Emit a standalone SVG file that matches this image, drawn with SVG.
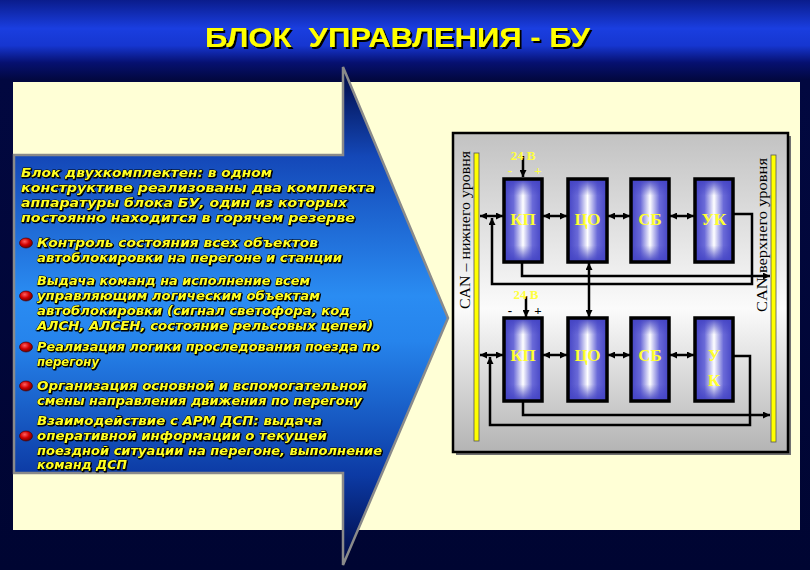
<svg xmlns="http://www.w3.org/2000/svg" width="810" height="570" viewBox="0 0 810 570">
<defs>
<linearGradient id="bg" x1="0" y1="0" x2="0" y2="570" gradientUnits="userSpaceOnUse">
<stop offset="0" stop-color="#0a1c8c"/>
<stop offset="0.05" stop-color="#1a3ee0"/>
<stop offset="0.08" stop-color="#1636d0"/>
<stop offset="0.11" stop-color="#061070"/>
<stop offset="0.14" stop-color="#020840"/>
<stop offset="1" stop-color="#000532"/>
</linearGradient>
<linearGradient id="arrowG" x1="0" y1="67" x2="0" y2="565" gradientUnits="userSpaceOnUse">
<stop offset="0" stop-color="#000842"/>
<stop offset="0.18" stop-color="#1448b8"/>
<stop offset="0.46" stop-color="#2a8cf2"/>
<stop offset="0.55" stop-color="#2684ec"/>
<stop offset="0.82" stop-color="#0c3aa4"/>
<stop offset="1" stop-color="#000842"/>
</linearGradient>
<linearGradient id="panelG" x1="0" y1="0" x2="0" y2="1">
<stop offset="0" stop-color="#c2c2c2"/>
<stop offset="0.55" stop-color="#fbfbfb"/>
<stop offset="1" stop-color="#b4b4b4"/>
</linearGradient>
<linearGradient id="blkH" x1="0" y1="0" x2="1" y2="0">
<stop offset="0" stop-color="#4444c4"/>
<stop offset="0.25" stop-color="#6a6ad8"/>
<stop offset="0.5" stop-color="#ffffff"/>
<stop offset="0.75" stop-color="#6a6ad8"/>
<stop offset="1" stop-color="#4444c4"/>
</linearGradient>
<linearGradient id="blkV" x1="0" y1="0" x2="0" y2="1">
<stop offset="0" stop-color="#4444c4" stop-opacity="1"/>
<stop offset="0.2" stop-color="#4444c4" stop-opacity="0"/>
<stop offset="0.8" stop-color="#4444c4" stop-opacity="0"/>
<stop offset="1" stop-color="#4444c4" stop-opacity="1"/>
</linearGradient>
<radialGradient id="bul" cx="0.4" cy="0.35" r="0.7">
<stop offset="0" stop-color="#ff6060"/>
<stop offset="0.5" stop-color="#d00000"/>
<stop offset="1" stop-color="#600000"/>
</radialGradient>
<filter id="sh" x="-5%" y="-20%" width="110%" height="140%">
<feDropShadow dx="1" dy="1" stdDeviation="0" flood-color="#000"/>
</filter>
<filter id="tsh" x="-5%" y="-20%" width="110%" height="150%">
<feDropShadow dx="2" dy="2" stdDeviation="0" flood-color="#000"/>
</filter>
<marker id="ah" viewBox="0 0 8 8" refX="8" refY="4" markerWidth="7" markerHeight="7" orient="auto-start-reverse" markerUnits="userSpaceOnUse">
<path d="M0,0 L8,4 L0,8 z" fill="#000"/>
</marker>
<style>
.lt{font-family:"DejaVu Sans","Liberation Sans",sans-serif;font-style:italic;font-weight:bold;font-size:13px;fill:#ffff20;stroke:#000;stroke-width:0.9px;paint-order:stroke}
.blk{fill:url(#blkH);stroke:none}
.blkv{fill:url(#blkV);stroke:#000;stroke-width:3.5px}
.bl{font-family:"Liberation Serif",serif;font-weight:bold;font-size:17px;fill:#ffff30;text-anchor:middle}
.ln{fill:none;stroke:#000;stroke-width:2.5px}
.can{font-family:"Liberation Serif",serif;font-size:14px;fill:#000;text-anchor:middle}
.v{font-family:"Liberation Serif",serif;font-weight:bold;font-size:13px;text-anchor:middle}
.bar{fill:#ffff00;stroke:#555;stroke-width:0.8px}
</style>
</defs>

<rect x="0" y="0" width="810" height="570" fill="url(#bg)"/>

<g id="title" filter="url(#tsh)">
<text x="205" y="47" xml:space="preserve" font-family="Liberation Sans, sans-serif" font-weight="bold" font-size="28" fill="#ffff00" textLength="385" lengthAdjust="spacingAndGlyphs">БЛОК  УПРАВЛЕНИЯ - БУ</text>
</g>

<rect id="cream" x="13" y="82" width="787" height="448" fill="#ffffd6"/>

<g id="arrow">
<path d="M343,67 L448,318 L343,565 L343,473 L14,473 L14,155 L343,155 Z" fill="url(#arrowG)" stroke="#8a8a8a" stroke-width="2.5" stroke-linejoin="miter"/>
</g>

<g id="text" filter="url(#sh)">
<text class="lt" x="21" y="177" textLength="251" lengthAdjust="spacingAndGlyphs">Блок двухкомплектен: в одном</text>
<text class="lt" x="21" y="192" textLength="354" lengthAdjust="spacingAndGlyphs">конструктиве реализованы два комплекта</text>
<text class="lt" x="21" y="207" textLength="326" lengthAdjust="spacingAndGlyphs">аппаратуры блока БУ, один из которых</text>
<text class="lt" x="21" y="222" textLength="334" lengthAdjust="spacingAndGlyphs">постоянно находится в горячем резерве</text>

<text class="lt" x="37" y="247" textLength="281" lengthAdjust="spacingAndGlyphs">Контроль состояния всех объектов</text>
<text class="lt" x="37" y="262" textLength="305" lengthAdjust="spacingAndGlyphs">автоблокировки на перегоне и станции</text>

<text class="lt" x="37" y="285" textLength="273" lengthAdjust="spacingAndGlyphs">Выдача команд на исполнение всем</text>
<text class="lt" x="37" y="300" textLength="283" lengthAdjust="spacingAndGlyphs">управляющим логическим объектам</text>
<text class="lt" x="37" y="315" textLength="313" lengthAdjust="spacingAndGlyphs">автоблокировки (сигнал светофора, код</text>
<text class="lt" x="37" y="330" textLength="336" lengthAdjust="spacingAndGlyphs">АЛСН, АЛСЕН, состояние рельсовых цепей)</text>

<text class="lt" x="37" y="351" textLength="343" lengthAdjust="spacingAndGlyphs">Реализация логики проследования поезда по</text>
<text class="lt" x="37" y="366" textLength="62" lengthAdjust="spacingAndGlyphs">перегону</text>

<text class="lt" x="37" y="390" textLength="330" lengthAdjust="spacingAndGlyphs">Организация основной и вспомогательной</text>
<text class="lt" x="37" y="405" textLength="325" lengthAdjust="spacingAndGlyphs">смены направления движения по перегону</text>

<text class="lt" x="37" y="425" textLength="285" lengthAdjust="spacingAndGlyphs">Взаимодействие с АРМ ДСП: выдача</text>
<text class="lt" x="37" y="440" textLength="290" lengthAdjust="spacingAndGlyphs">оперативной информации о текущей</text>
<text class="lt" x="37" y="455" textLength="345" lengthAdjust="spacingAndGlyphs">поездной ситуации на перегоне, выполнение</text>
<text class="lt" x="37" y="469" textLength="90" lengthAdjust="spacingAndGlyphs">команд ДСП</text>
</g>

<g id="bullets" stroke="#400000" stroke-width="0.6">
<ellipse cx="26" cy="243" rx="6.5" ry="5" fill="url(#bul)"/>
<ellipse cx="26" cy="296" rx="6.5" ry="5" fill="url(#bul)"/>
<ellipse cx="26" cy="347" rx="6.5" ry="5" fill="url(#bul)"/>
<ellipse cx="26" cy="386" rx="6.5" ry="5" fill="url(#bul)"/>
<ellipse cx="26" cy="436" rx="6.5" ry="5" fill="url(#bul)"/>
</g>

<g id="panel">
<rect x="456" y="136" width="335" height="319" fill="#707070"/>
<rect x="453" y="133" width="335" height="319" fill="url(#panelG)" stroke="#000" stroke-width="2.5"/>
</g>

<g id="can-low">
<rect class="bar" x="474" y="153" width="5" height="288"/>
<text class="can" transform="translate(470,230) rotate(-90)" textLength="158" lengthAdjust="spacingAndGlyphs">CAN – нижнего уровня</text>
</g>
<g id="can-high">
<rect class="bar" x="771" y="155" width="5" height="287"/>
<text class="can" transform="translate(767,235) rotate(-90)" textLength="154" lengthAdjust="spacingAndGlyphs">CAN верхнего уровня</text>
</g>

<g id="connectors">
<line class="ln" x1="480" y1="216" x2="503" y2="216" marker-start="url(#ah)" marker-end="url(#ah)"/>
<line class="ln" x1="543" y1="216" x2="567" y2="216" marker-start="url(#ah)" marker-end="url(#ah)"/>
<line class="ln" x1="608" y1="216" x2="630" y2="216" marker-start="url(#ah)" marker-end="url(#ah)"/>
<line class="ln" x1="670" y1="216" x2="694" y2="216" marker-start="url(#ah)" marker-end="url(#ah)"/>
<polyline class="ln" points="734,214 752,214 752,284 492,284 492,218" marker-end="url(#ah)"/>
<polyline class="ln" points="522,262 522,276 770,276" marker-end="url(#ah)"/>
<line class="ln" x1="589" y1="263" x2="589" y2="317" marker-start="url(#ah)" marker-end="url(#ah)"/>
<line class="ln" x1="523" y1="156" x2="523" y2="177" marker-end="url(#ah)"/>

<line class="ln" x1="480" y1="355" x2="503" y2="355" marker-start="url(#ah)" marker-end="url(#ah)"/>
<line class="ln" x1="543" y1="355" x2="567" y2="355" marker-start="url(#ah)" marker-end="url(#ah)"/>
<line class="ln" x1="608" y1="355" x2="630" y2="355" marker-start="url(#ah)" marker-end="url(#ah)"/>
<line class="ln" x1="670" y1="355" x2="694" y2="355" marker-start="url(#ah)" marker-end="url(#ah)"/>
<polyline class="ln" points="734,356 750,356 750,425 490,425 490,357" marker-end="url(#ah)"/>
<polyline class="ln" points="523,401 523,415 770,415" marker-end="url(#ah)"/>
<line class="ln" x1="526" y1="296" x2="526" y2="317" marker-end="url(#ah)"/>
</g>

<g id="kp1"><rect class="blk" x="504" y="179" width="38" height="83"/><rect class="blkv" x="504" y="179" width="38" height="83"/><text class="bl" x="523" y="225">КП</text></g>
<g id="co1"><rect class="blk" x="568" y="179" width="39" height="83"/><rect class="blkv" x="568" y="179" width="39" height="83"/><text class="bl" x="587.5" y="225">ЦО</text></g>
<g id="sb1"><rect class="blk" x="631" y="179" width="38" height="83"/><rect class="blkv" x="631" y="179" width="38" height="83"/><text class="bl" x="650" y="225">СБ</text></g>
<g id="uk1"><rect class="blk" x="695" y="179" width="38" height="83"/><rect class="blkv" x="695" y="179" width="38" height="83"/><text class="bl" x="714" y="225">УК</text></g>

<g id="kp2"><rect class="blk" x="504" y="318" width="38" height="83"/><rect class="blkv" x="504" y="318" width="38" height="83"/><text class="bl" x="523" y="361">КП</text></g>
<g id="co2"><rect class="blk" x="568" y="318" width="39" height="83"/><rect class="blkv" x="568" y="318" width="39" height="83"/><text class="bl" x="587.5" y="361">ЦО</text></g>
<g id="sb2"><rect class="blk" x="631" y="318" width="38" height="83"/><rect class="blkv" x="631" y="318" width="38" height="83"/><text class="bl" x="650" y="361">СБ</text></g>
<g id="uk2"><rect class="blk" x="695" y="318" width="38" height="83"/><rect class="blkv" x="695" y="318" width="38" height="83"/><text class="bl" x="714" y="361">У</text><text class="bl" x="714" y="386">К</text></g>

<g id="power1">
<text class="v" x="523" y="160" fill="#ffff40">24 В</text>
<text class="v" x="510" y="175" fill="#ffff40">-</text>
<text class="v" x="538" y="175" fill="#ffff40">+</text>
</g>
<g id="power2">
<text class="v" x="526" y="299" fill="#ffff40">24 В</text>
<text class="v" x="510" y="315" fill="#000">-</text>
<text class="v" x="538" y="315" fill="#000">+</text>
</g>
</svg>
